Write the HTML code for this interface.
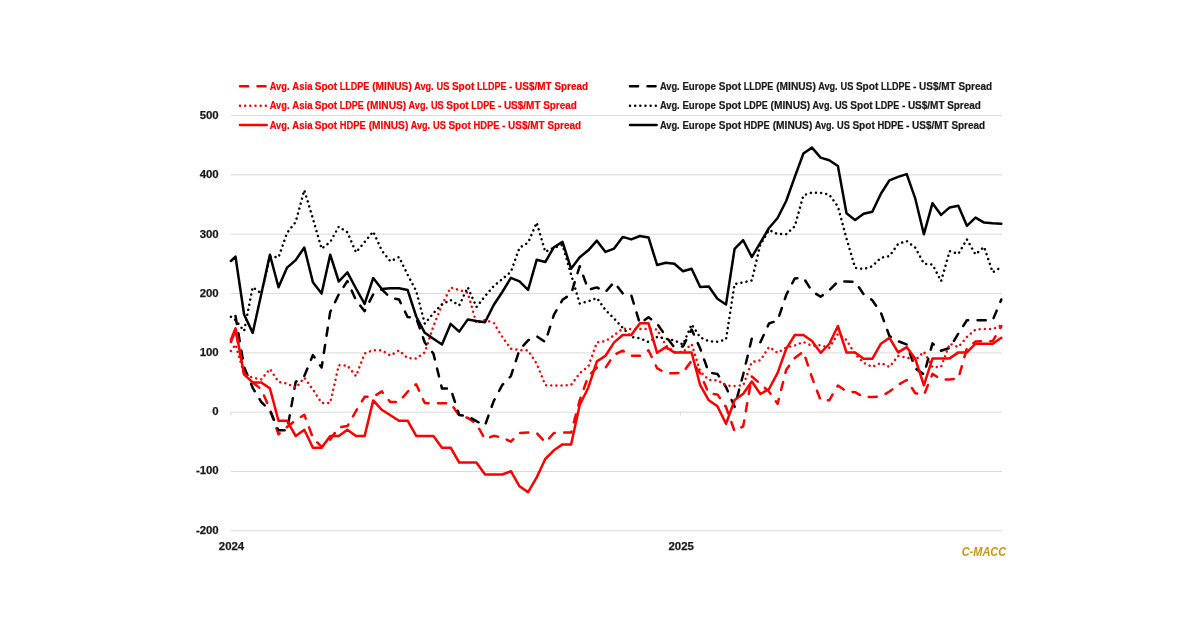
<!DOCTYPE html>
<html lang="en"><head><meta charset="utf-8"><title>Polyethylene spot spreads</title>
<style>html,body{margin:0;padding:0;background:#fff}svg{display:block}text{font-family:"Liberation Sans", Arial, sans-serif;font-weight:bold}</style></head><body>
<svg width="1200" height="627" viewBox="0 0 1200 627">
<rect width="1200" height="627" fill="#fff"/>
<g stroke="#d9d9d9" stroke-width="1">
<line x1="230.7" y1="115.6" x2="1001.8" y2="115.6"/>
<line x1="230.7" y1="174.9" x2="1001.8" y2="174.9"/>
<line x1="230.7" y1="234.2" x2="1001.8" y2="234.2"/>
<line x1="230.7" y1="293.6" x2="1001.8" y2="293.6"/>
<line x1="230.7" y1="352.9" x2="1001.8" y2="352.9"/>
<line x1="230.7" y1="412.2" x2="1001.8" y2="412.2"/>
<line x1="230.7" y1="471.5" x2="1001.8" y2="471.5"/>
<line x1="230.7" y1="530.8" x2="1001.8" y2="530.8"/>
<line x1="230.9" y1="412.2" x2="230.9" y2="415.7"/>
<line x1="680.4" y1="412.2" x2="680.4" y2="415.7"/>
</g>
<g font-size="11.4" fill="#1a1a1a" stroke="#1a1a1a" stroke-width="0.25" text-anchor="end">
<text x="218.7" y="119.1">500</text>
<text x="218.7" y="178.3">400</text>
<text x="218.7" y="237.5">300</text>
<text x="218.7" y="296.7">200</text>
<text x="218.7" y="355.9">100</text>
<text x="218.7" y="415.1">0</text>
<text x="218.7" y="474.4">-100</text>
<text x="218.7" y="533.6">-200</text>
</g>
<g font-size="11.4" fill="#1a1a1a" stroke="#1a1a1a" stroke-width="0.25" text-anchor="middle">
<text x="231.5" y="549.9">2024</text><text x="681.2" y="549.9">2025</text></g>
<text x="961.7" y="555.7" font-size="12" font-style="italic" fill="#c8960c" textLength="44.5" lengthAdjust="spacingAndGlyphs">C-MACC</text>
<polyline fill="none" stroke="#ff0000" stroke-width="2.5" stroke-linecap="round" stroke-linejoin="round" stroke-dasharray="8.1 9.4" points="230.9,342.0 235.5,330.0 244.1,374.0 252.7,382.5 261.3,389.2 269.9,409.3 278.5,434.4 287.1,426.9 295.7,420.2 304.3,414.8 312.9,437.8 321.6,447.0 330.2,439.5 338.8,427.4 347.4,426.1 356.0,411.0 364.6,396.8 373.2,396.8 381.8,391.4 390.4,402.1 399.0,402.1 407.6,391.7 416.2,384.3 424.8,403.1 433.4,403.3 442.0,403.3 450.6,403.3 459.2,415.4 467.8,417.9 476.4,423.8 485.0,439.2 493.7,435.8 502.3,437.5 510.9,441.7 519.5,433.0 528.1,432.6 536.7,433.0 545.3,442.5 553.9,433.0 562.5,432.6 571.1,432.6 579.7,400.3 588.3,376.0 596.9,367.6 605.5,367.8 614.1,354.8 622.7,350.7 631.3,355.8 639.9,355.8 648.5,350.3 657.1,368.2 665.8,373.2 674.4,373.2 683.0,372.6 691.6,360.5 700.2,373.5 708.8,393.6 717.4,394.4 726.0,407.0 734.6,431.3 743.2,426.3 751.8,376.5 760.4,383.9 769.0,391.6 777.6,403.8 786.2,369.8 794.8,358.0 803.4,351.5 812.0,377.5 820.6,400.3 829.2,400.3 837.9,385.5 846.5,391.5 855.1,392.2 863.7,397.0 872.3,397.0 880.9,396.5 889.5,391.5 898.1,384.8 906.7,380.0 915.3,393.2 923.9,395.0 932.5,373.9 941.1,379.4 949.7,379.4 958.3,378.6 966.9,348.2 975.5,341.5 984.1,341.2 992.7,341.2 1001.3,326.1"/>
<polyline fill="none" stroke="#000000" stroke-width="2.5" stroke-linecap="round" stroke-linejoin="round" stroke-dasharray="8.1 9.4" points="235.5,316.0 244.1,367.0 252.7,387.8 261.3,402.0 269.9,410.4 278.5,430.2 287.1,430.2 295.7,381.9 304.3,376.1 312.9,355.1 321.6,367.5 330.2,312.0 338.8,294.4 347.4,281.0 356.0,300.3 364.6,311.1 373.2,294.4 381.8,289.4 390.4,297.7 399.0,299.4 407.6,317.0 416.2,318.0 424.8,342.5 433.4,353.6 442.0,388.6 450.6,388.6 459.2,415.0 467.8,416.2 476.4,421.2 485.0,425.4 493.7,401.1 502.3,384.9 510.9,376.0 519.5,349.8 528.1,340.4 536.7,336.2 545.3,342.0 553.9,314.9 562.5,299.8 571.1,294.0 579.7,266.2 588.3,289.6 596.9,287.4 605.5,292.0 614.1,282.1 622.7,293.4 631.3,295.3 639.9,323.6 648.5,317.2 657.1,323.6 665.8,336.2 674.4,347.4 683.0,346.4 691.6,329.5 700.2,348.5 708.8,372.6 717.4,373.9 726.0,387.0 734.6,407.0 743.2,374.5 751.8,338.5 760.4,342.2 769.0,323.5 777.6,320.6 786.2,295.0 794.8,278.4 803.4,277.7 812.0,291.1 820.6,296.8 829.2,290.3 837.9,281.5 846.5,281.5 855.1,281.7 863.7,294.4 872.3,300.2 880.9,312.7 889.5,336.2 898.1,341.2 906.7,344.5 915.3,368.3 923.9,374.5 932.5,343.4 941.1,350.7 949.7,347.9 958.3,333.7 966.9,320.3 975.5,320.3 984.1,320.3 992.7,320.3 1001.3,299.5"/>
<polyline fill="none" stroke="#ff0000" stroke-width="2.5" stroke-linecap="round" stroke-linejoin="round" stroke-dasharray="0.01 5.15" points="230.9,351.0 235.5,344.5 244.1,374.0 252.7,377.7 261.3,379.4 269.9,368.9 278.5,381.9 287.1,383.6 295.7,387.8 304.3,377.7 312.9,389.5 321.6,402.9 330.2,402.9 338.8,365.2 347.4,365.5 356.0,376.1 364.6,353.5 373.2,350.1 381.8,350.4 390.4,355.5 399.0,350.4 407.6,358.1 416.2,358.5 424.8,352.3 433.4,326.1 442.0,305.0 450.6,287.5 459.2,290.0 467.8,292.8 476.4,323.3 485.0,319.9 493.7,322.8 502.3,337.0 510.9,348.7 519.5,350.1 528.1,350.4 536.7,363.7 545.3,385.2 553.9,385.6 562.5,385.6 571.1,384.9 579.7,373.1 588.3,366.5 596.9,342.4 605.5,341.2 614.1,335.2 622.7,328.6 631.3,329.0 639.9,329.0 648.5,329.0 657.1,329.5 665.8,345.4 674.4,352.0 683.0,352.0 691.6,344.0 700.2,371.5 708.8,379.9 717.4,380.2 726.0,385.5 734.6,386.0 743.2,385.3 751.8,362.0 760.4,360.3 769.0,347.0 777.6,352.8 786.2,347.5 794.8,345.5 803.4,342.0 812.0,345.8 820.6,345.2 829.2,347.8 837.9,334.0 846.5,340.0 855.1,354.1 863.7,362.9 872.3,366.9 880.9,362.9 889.5,366.9 898.1,356.0 906.7,357.5 915.3,360.2 923.9,351.7 932.5,367.2 941.1,366.8 949.7,343.7 958.3,347.1 966.9,337.0 975.5,329.5 984.1,329.0 992.7,329.0 1001.3,325.3"/>
<polyline fill="none" stroke="#000000" stroke-width="2.5" stroke-linecap="round" stroke-linejoin="round" stroke-dasharray="0.01 5.15" points="230.9,316.7 235.5,320.0 244.1,331.0 252.7,287.1 261.3,293.5 269.9,256.5 278.5,257.4 287.1,232.8 295.7,221.9 304.3,190.1 312.9,218.6 321.6,248.7 330.2,242.0 338.8,226.6 347.4,232.3 356.0,252.4 364.6,242.0 373.2,231.6 381.8,250.6 390.4,261.3 399.0,257.0 407.6,274.6 416.2,291.0 424.8,323.6 433.4,313.2 442.0,304.3 450.6,300.0 459.2,305.4 467.8,287.3 476.4,307.0 485.0,296.2 493.7,286.1 502.3,279.0 510.9,271.8 519.5,247.7 528.1,242.7 536.7,222.6 545.3,251.9 553.9,247.7 562.5,244.9 571.1,274.5 579.7,303.5 588.3,301.3 596.9,298.0 605.5,310.0 614.1,318.6 622.7,327.8 631.3,337.0 639.9,338.3 648.5,342.0 657.1,337.0 665.8,338.7 674.4,340.4 683.0,344.5 691.6,324.4 700.2,337.3 708.8,341.2 717.4,341.7 726.0,339.5 734.6,284.0 743.2,282.4 751.8,280.4 760.4,244.4 769.0,230.0 777.6,234.1 786.2,234.1 794.8,226.3 803.4,195.3 812.0,192.5 820.6,192.8 829.2,194.5 837.9,206.5 846.5,238.5 855.1,267.8 863.7,269.0 872.3,266.2 880.9,257.8 889.5,256.1 898.1,243.9 906.7,241.0 915.3,247.7 923.9,263.7 932.5,264.5 941.1,281.2 949.7,251.1 958.3,253.9 966.9,239.4 975.5,254.4 984.1,246.9 992.7,272.4 1001.3,267.0"/>
<polyline fill="none" stroke="#ff0000" stroke-width="2.5" stroke-linecap="round" stroke-linejoin="round"  points="230.9,340.0 235.5,328.3 244.1,374.4 252.7,382.5 261.3,382.5 269.9,388.4 278.5,420.7 287.1,420.7 295.7,436.1 304.3,429.7 312.9,447.8 321.6,447.8 330.2,436.1 338.8,436.1 347.4,429.7 356.0,436.1 364.6,436.1 373.2,400.4 381.8,409.8 390.4,415.2 399.0,420.7 407.6,420.7 416.2,435.9 424.8,435.9 433.4,436.0 442.0,447.7 450.6,447.7 459.2,462.5 467.8,462.5 476.4,462.5 485.0,474.5 493.7,474.5 502.3,474.5 510.9,471.2 519.5,486.3 528.1,492.1 536.7,477.4 545.3,459.0 553.9,450.3 562.5,444.4 571.1,444.4 579.7,405.0 588.3,387.7 596.9,361.4 605.5,355.8 614.1,342.4 622.7,335.0 631.3,335.0 639.9,323.3 648.5,323.3 657.1,352.8 665.8,347.1 674.4,352.5 683.0,352.5 691.6,352.5 700.2,385.2 708.8,400.3 717.4,406.2 726.0,423.8 734.6,400.0 743.2,393.8 751.8,381.5 760.4,394.0 769.0,389.0 777.6,372.8 786.2,348.8 794.8,335.0 803.4,335.0 812.0,341.1 820.6,352.8 829.2,344.0 837.9,326.0 846.5,352.5 855.1,352.5 863.7,358.8 872.3,358.8 880.9,343.7 889.5,337.8 898.1,352.4 906.7,347.1 915.3,359.0 923.9,385.3 932.5,358.4 941.1,358.4 949.7,358.4 958.3,352.4 966.9,352.4 975.5,343.7 984.1,343.7 992.7,343.7 1001.3,337.8"/>
<polyline fill="none" stroke="#000000" stroke-width="2.5" stroke-linecap="round" stroke-linejoin="round"  points="230.9,261.0 235.5,256.7 244.1,314.5 252.7,332.9 261.3,293.9 269.9,254.7 278.5,287.2 287.1,267.6 295.7,260.1 304.3,247.5 312.9,282.2 321.6,293.6 330.2,254.7 338.8,281.5 347.4,272.3 356.0,288.5 364.6,303.9 373.2,278.1 381.8,289.0 390.4,288.2 399.0,288.2 407.6,289.9 416.2,316.5 424.8,332.8 433.4,338.7 442.0,344.5 450.6,323.9 459.2,331.6 467.8,319.4 476.4,321.1 485.0,322.3 493.7,305.0 502.3,292.0 510.9,277.9 519.5,281.3 528.1,289.9 536.7,259.8 545.3,262.0 553.9,247.2 562.5,241.9 571.1,268.7 579.7,257.3 588.3,250.3 596.9,240.7 605.5,251.9 614.1,248.6 622.7,236.9 631.3,239.4 639.9,236.0 648.5,237.4 657.1,265.0 665.8,262.8 674.4,263.7 683.0,271.2 691.6,268.7 700.2,287.0 708.8,286.5 717.4,298.8 726.0,304.5 734.6,248.9 743.2,240.2 751.8,257.0 760.4,242.7 769.0,228.0 777.6,218.0 786.2,201.0 794.8,176.9 803.4,153.5 812.0,147.6 820.6,157.6 829.2,160.2 837.9,166.0 846.5,213.2 855.1,220.1 863.7,213.8 872.3,211.7 880.9,193.7 889.5,180.3 898.1,176.9 906.7,174.1 915.3,198.7 923.9,234.2 932.5,203.2 941.1,214.9 949.7,207.4 958.3,205.7 966.9,225.8 975.5,217.6 984.1,222.6 992.7,223.3 1001.3,223.8"/>
<line x1="240.0" y1="86.2" x2="266.6" y2="86.2" stroke="#ff0000" stroke-width="2.5" stroke-linecap="round" stroke-dasharray="8.1 9.4"/>
<text y="90.05" font-size="10" fill="#ff0000" stroke="#ff0000" stroke-width="0.2"><tspan x="269.7" textLength="19.8" lengthAdjust="spacingAndGlyphs">Avg.</tspan> <tspan x="292.2" textLength="20.3" lengthAdjust="spacingAndGlyphs">Asia</tspan> <tspan x="314.7" textLength="22.4" lengthAdjust="spacingAndGlyphs">Spot</tspan> <tspan x="339.7" textLength="29.6" lengthAdjust="spacingAndGlyphs">LLDPE</tspan> <tspan x="372.2" textLength="39.6" lengthAdjust="spacingAndGlyphs">(MINUS)</tspan> <tspan x="414.2" textLength="19.4" lengthAdjust="spacingAndGlyphs">Avg.</tspan> <tspan x="436.5" textLength="12.8" lengthAdjust="spacingAndGlyphs">US</tspan> <tspan x="451.9" textLength="22.4" lengthAdjust="spacingAndGlyphs">Spot</tspan> <tspan x="476.9" textLength="29.6" lengthAdjust="spacingAndGlyphs">LLDPE</tspan> <tspan x="509.1" textLength="3.4" lengthAdjust="spacingAndGlyphs">-</tspan> <tspan x="515.1" textLength="36.6" lengthAdjust="spacingAndGlyphs">US$/MT</tspan> <tspan x="554.4" textLength="33.6" lengthAdjust="spacingAndGlyphs">Spread</tspan></text>
<line x1="630.0" y1="86.2" x2="656.6" y2="86.2" stroke="#000000" stroke-width="2.5" stroke-linecap="round" stroke-dasharray="8.1 9.4"/>
<text y="90.05" font-size="10" fill="#1a1a1a" stroke="#1a1a1a" stroke-width="0.2"><tspan x="659.9" textLength="19.8" lengthAdjust="spacingAndGlyphs">Avg.</tspan> <tspan x="682.4" textLength="33.4" lengthAdjust="spacingAndGlyphs">Europe</tspan> <tspan x="718.7" textLength="22.4" lengthAdjust="spacingAndGlyphs">Spot</tspan> <tspan x="743.7" textLength="29.6" lengthAdjust="spacingAndGlyphs">LLDPE</tspan> <tspan x="776.2" textLength="39.6" lengthAdjust="spacingAndGlyphs">(MINUS)</tspan> <tspan x="818.2" textLength="19.4" lengthAdjust="spacingAndGlyphs">Avg.</tspan> <tspan x="840.5" textLength="12.8" lengthAdjust="spacingAndGlyphs">US</tspan> <tspan x="855.9" textLength="22.4" lengthAdjust="spacingAndGlyphs">Spot</tspan> <tspan x="880.9" textLength="29.6" lengthAdjust="spacingAndGlyphs">LLDPE</tspan> <tspan x="913.1" textLength="3.4" lengthAdjust="spacingAndGlyphs">-</tspan> <tspan x="919.1" textLength="36.6" lengthAdjust="spacingAndGlyphs">US$/MT</tspan> <tspan x="958.4" textLength="33.6" lengthAdjust="spacingAndGlyphs">Spread</tspan></text>
<line x1="240.0" y1="105.8" x2="266.6" y2="105.8" stroke="#ff0000" stroke-width="2.5" stroke-linecap="round" stroke-dasharray="0.01 5.15"/>
<text y="108.90" font-size="10" fill="#ff0000" stroke="#ff0000" stroke-width="0.2"><tspan x="269.7" textLength="19.8" lengthAdjust="spacingAndGlyphs">Avg.</tspan> <tspan x="292.2" textLength="20.3" lengthAdjust="spacingAndGlyphs">Asia</tspan> <tspan x="314.7" textLength="22.4" lengthAdjust="spacingAndGlyphs">Spot</tspan> <tspan x="339.7" textLength="24.0" lengthAdjust="spacingAndGlyphs">LDPE</tspan> <tspan x="366.6" textLength="39.6" lengthAdjust="spacingAndGlyphs">(MINUS)</tspan> <tspan x="408.6" textLength="19.4" lengthAdjust="spacingAndGlyphs">Avg.</tspan> <tspan x="430.9" textLength="12.8" lengthAdjust="spacingAndGlyphs">US</tspan> <tspan x="446.3" textLength="22.4" lengthAdjust="spacingAndGlyphs">Spot</tspan> <tspan x="471.3" textLength="24.0" lengthAdjust="spacingAndGlyphs">LDPE</tspan> <tspan x="497.9" textLength="3.4" lengthAdjust="spacingAndGlyphs">-</tspan> <tspan x="503.9" textLength="36.6" lengthAdjust="spacingAndGlyphs">US$/MT</tspan> <tspan x="543.2" textLength="33.6" lengthAdjust="spacingAndGlyphs">Spread</tspan></text>
<line x1="630.0" y1="105.8" x2="656.6" y2="105.8" stroke="#000000" stroke-width="2.5" stroke-linecap="round" stroke-dasharray="0.01 5.15"/>
<text y="108.90" font-size="10" fill="#1a1a1a" stroke="#1a1a1a" stroke-width="0.2"><tspan x="659.9" textLength="19.8" lengthAdjust="spacingAndGlyphs">Avg.</tspan> <tspan x="682.4" textLength="33.4" lengthAdjust="spacingAndGlyphs">Europe</tspan> <tspan x="718.7" textLength="22.4" lengthAdjust="spacingAndGlyphs">Spot</tspan> <tspan x="743.7" textLength="24.0" lengthAdjust="spacingAndGlyphs">LDPE</tspan> <tspan x="770.6" textLength="39.6" lengthAdjust="spacingAndGlyphs">(MINUS)</tspan> <tspan x="812.6" textLength="19.4" lengthAdjust="spacingAndGlyphs">Avg.</tspan> <tspan x="834.9" textLength="12.8" lengthAdjust="spacingAndGlyphs">US</tspan> <tspan x="850.3" textLength="22.4" lengthAdjust="spacingAndGlyphs">Spot</tspan> <tspan x="875.3" textLength="24.0" lengthAdjust="spacingAndGlyphs">LDPE</tspan> <tspan x="901.9" textLength="3.4" lengthAdjust="spacingAndGlyphs">-</tspan> <tspan x="907.9" textLength="36.6" lengthAdjust="spacingAndGlyphs">US$/MT</tspan> <tspan x="947.2" textLength="33.6" lengthAdjust="spacingAndGlyphs">Spread</tspan></text>
<line x1="240.0" y1="125.0" x2="266.6" y2="125.0" stroke="#ff0000" stroke-width="2.5" stroke-linecap="round" />
<text y="128.80" font-size="10" fill="#ff0000" stroke="#ff0000" stroke-width="0.2"><tspan x="269.7" textLength="19.8" lengthAdjust="spacingAndGlyphs">Avg.</tspan> <tspan x="292.2" textLength="20.3" lengthAdjust="spacingAndGlyphs">Asia</tspan> <tspan x="314.7" textLength="22.4" lengthAdjust="spacingAndGlyphs">Spot</tspan> <tspan x="339.7" textLength="26.1" lengthAdjust="spacingAndGlyphs">HDPE</tspan> <tspan x="368.7" textLength="39.6" lengthAdjust="spacingAndGlyphs">(MINUS)</tspan> <tspan x="410.7" textLength="19.4" lengthAdjust="spacingAndGlyphs">Avg.</tspan> <tspan x="433.0" textLength="12.8" lengthAdjust="spacingAndGlyphs">US</tspan> <tspan x="448.4" textLength="22.4" lengthAdjust="spacingAndGlyphs">Spot</tspan> <tspan x="473.4" textLength="26.1" lengthAdjust="spacingAndGlyphs">HDPE</tspan> <tspan x="502.1" textLength="3.4" lengthAdjust="spacingAndGlyphs">-</tspan> <tspan x="508.1" textLength="36.6" lengthAdjust="spacingAndGlyphs">US$/MT</tspan> <tspan x="547.4" textLength="33.6" lengthAdjust="spacingAndGlyphs">Spread</tspan></text>
<line x1="630.0" y1="125.0" x2="656.6" y2="125.0" stroke="#000000" stroke-width="2.5" stroke-linecap="round" />
<text y="128.80" font-size="10" fill="#1a1a1a" stroke="#1a1a1a" stroke-width="0.2"><tspan x="659.9" textLength="19.8" lengthAdjust="spacingAndGlyphs">Avg.</tspan> <tspan x="682.4" textLength="33.4" lengthAdjust="spacingAndGlyphs">Europe</tspan> <tspan x="718.7" textLength="22.4" lengthAdjust="spacingAndGlyphs">Spot</tspan> <tspan x="743.7" textLength="26.1" lengthAdjust="spacingAndGlyphs">HDPE</tspan> <tspan x="772.7" textLength="39.6" lengthAdjust="spacingAndGlyphs">(MINUS)</tspan> <tspan x="814.7" textLength="19.4" lengthAdjust="spacingAndGlyphs">Avg.</tspan> <tspan x="837.0" textLength="12.8" lengthAdjust="spacingAndGlyphs">US</tspan> <tspan x="852.4" textLength="22.4" lengthAdjust="spacingAndGlyphs">Spot</tspan> <tspan x="877.4" textLength="26.1" lengthAdjust="spacingAndGlyphs">HDPE</tspan> <tspan x="906.1" textLength="3.4" lengthAdjust="spacingAndGlyphs">-</tspan> <tspan x="912.1" textLength="36.6" lengthAdjust="spacingAndGlyphs">US$/MT</tspan> <tspan x="951.4" textLength="33.6" lengthAdjust="spacingAndGlyphs">Spread</tspan></text>
</svg></body></html>
